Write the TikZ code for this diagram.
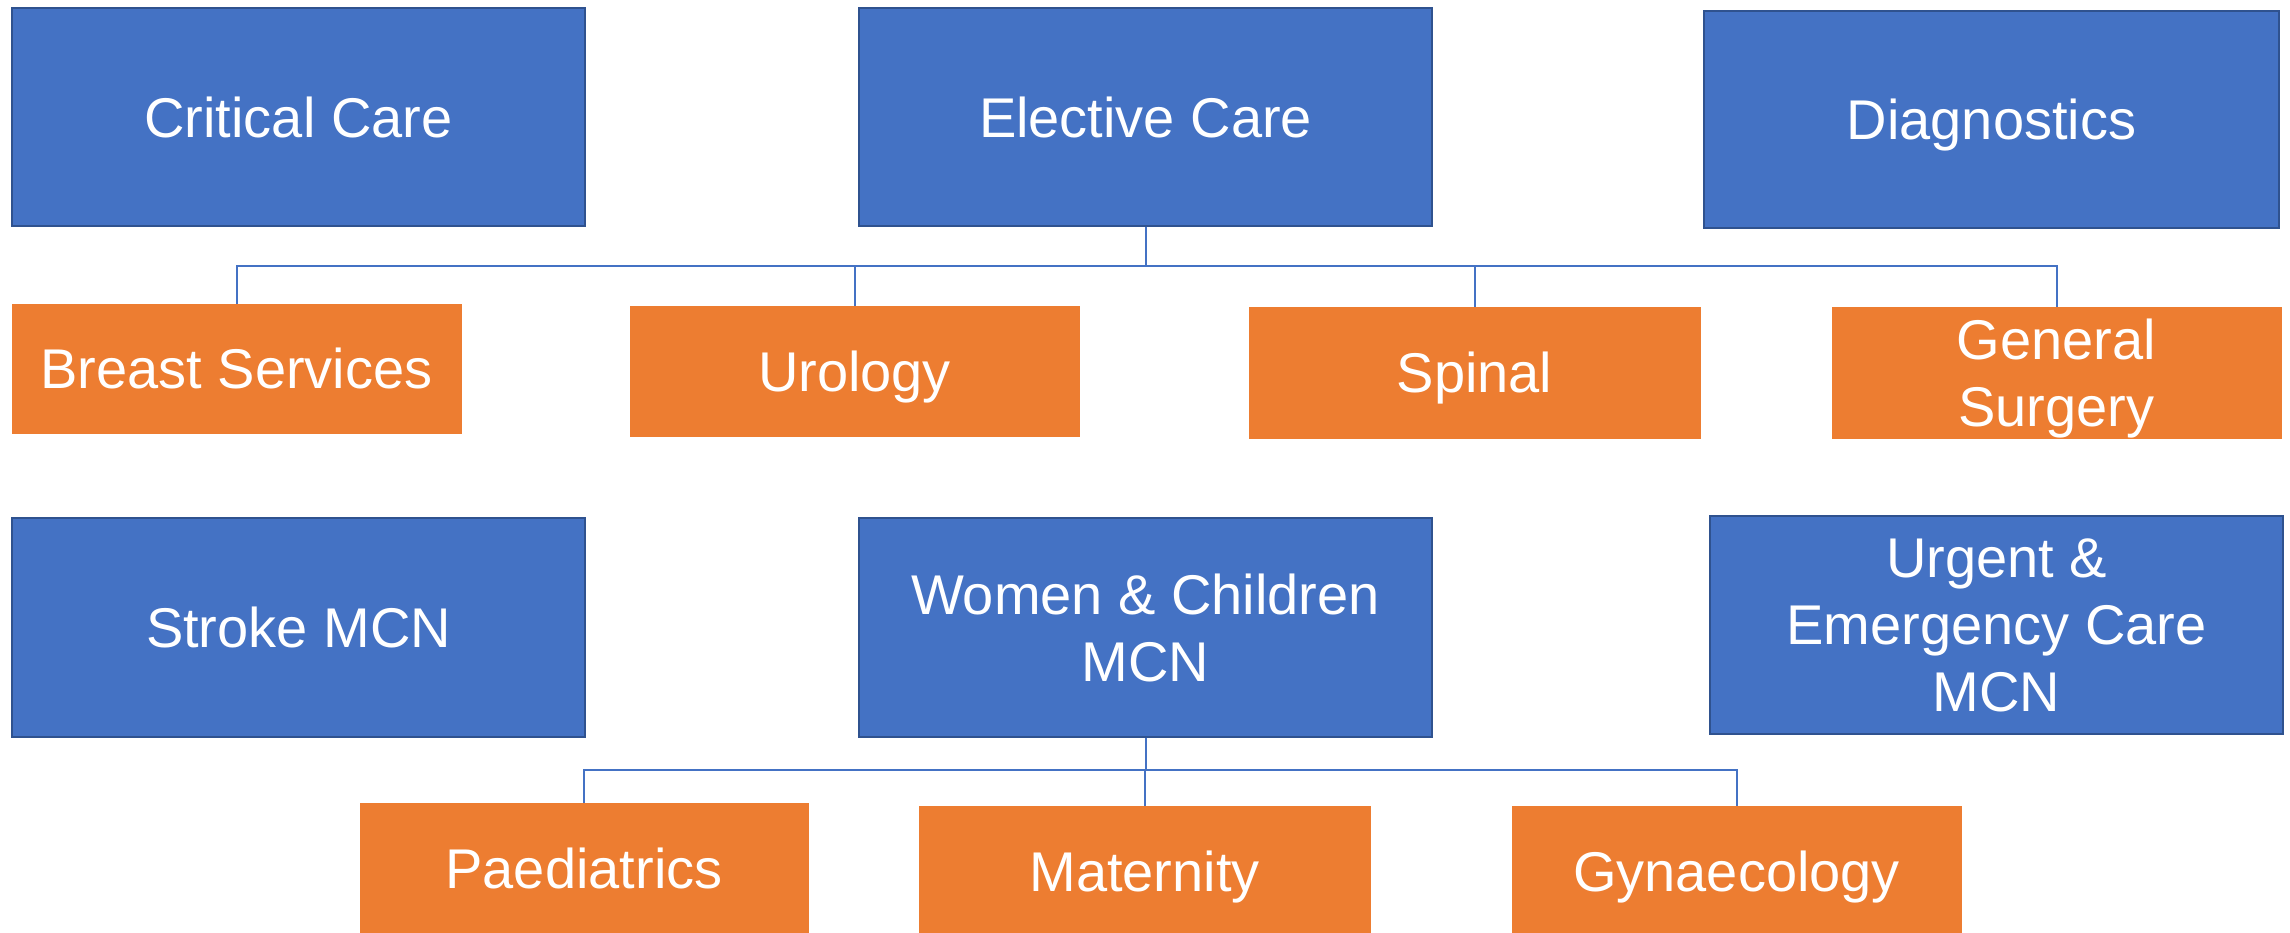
\documentclass[tikz,border=0pt]{standalone}
\usepackage{fontspec}
\setmainfont{Liberation Sans}
\definecolor{offblue}{HTML}{4472C4}
\definecolor{offblueedge}{HTML}{2F528F}
\definecolor{offorange}{HTML}{ED7D31}
\tikzset{
  bluebox/.style={draw=offblueedge, line width=1.2pt, fill=offblue, text=white, inner sep=0pt,
    align=center, text depth=0pt, font=\fontsize{56}{67}\selectfont},
  orangebox/.style={draw=offorange, line width=0.5pt, fill=offorange, text=white, inner sep=0pt,
    align=center, text depth=0pt, font=\fontsize{56}{67}\selectfont},
  conn/.style={draw=offblue, line width=2pt}
}
\begin{document}
\begin{tikzpicture}[x=1pt,y=-1pt]
\useasboundingbox (0,0) rectangle (2290,932);
% top blue row
\node[bluebox, minimum width=573pt, minimum height=218pt] (crit) at (298.5,117) {Critical Care};
\node[bluebox, minimum width=573pt, minimum height=218pt] (elect) at (1145.5,117) {Elective Care};
\node[bluebox, minimum width=575pt, minimum height=217pt] (diag) at (1991.5,119.5) {Diagnostics};
% orange row 1
\node[orangebox, minimum width=449pt, minimum height=129pt] (breast) at (236.5,368.5) {Breast Services};
\node[orangebox, minimum width=449pt, minimum height=130pt] (uro) at (854.5,371) {Urology};
\node[orangebox, minimum width=451pt, minimum height=131pt] (spinal) at (1474.5,372.5) {Spinal};
\node[orangebox, minimum width=449pt, minimum height=131pt] (gensurg) at (2056.5,372.5) {General\\Surgery};
% lower blue row
\node[bluebox, minimum width=573pt, minimum height=219pt] (stroke) at (298.5,627.5) {Stroke MCN};
\node[bluebox, minimum width=573pt, minimum height=219pt] (women) at (1145.5,627.5) {Women \& Children\\MCN};
\node[bluebox, minimum width=573pt, minimum height=218pt] (urgent) at (1996.5,625) {Urgent \&\\Emergency Care\\MCN};
% orange row 2
\node[orangebox, minimum width=448pt, minimum height=130pt] (paed) at (584,868) {Paediatrics};
\node[orangebox, minimum width=451pt, minimum height=130pt] (mat) at (1144.5,871) {Maternity};
\node[orangebox, minimum width=449pt, minimum height=130pt] (gyn) at (1736.5,871) {Gynaecology};
% bus coordinates
\coordinate (bus1) at (0,266);
\coordinate (bus2) at (0,770);
% connectors
\foreach \c in {breast,uro,spinal,gensurg}
  \draw[conn] (elect.south) -- (elect.south |- bus1) -| (\c.north);
\foreach \c in {paed,mat,gyn}
  \draw[conn] (women.south) -- (women.south |- bus2) -| (\c.north);
\end{tikzpicture}
\end{document}
